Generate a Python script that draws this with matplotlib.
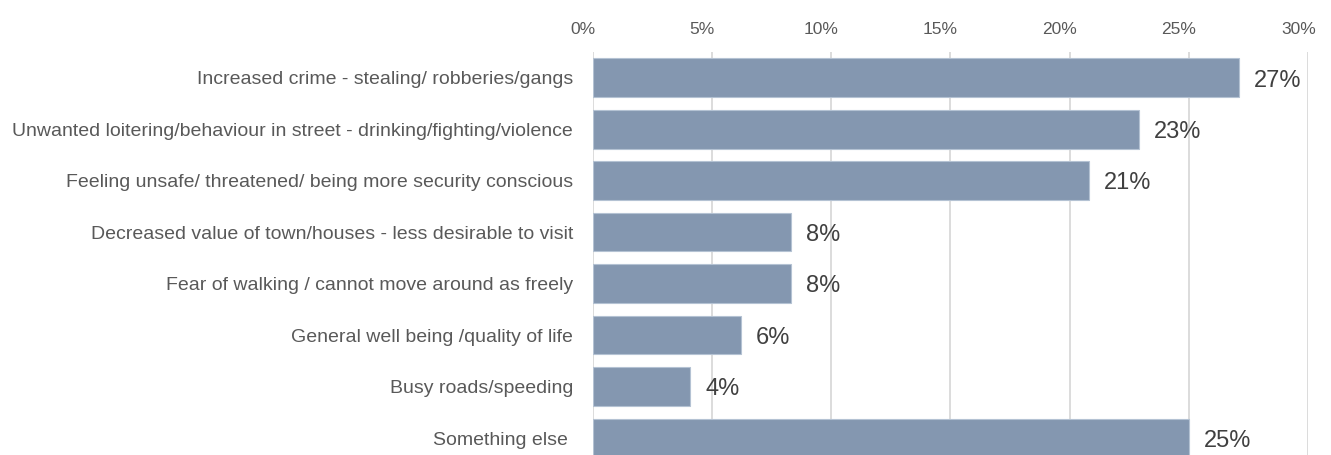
import matplotlib
matplotlib.use("Agg")
import matplotlib.pyplot as plt
import matplotlib.transforms as mtransforms
from matplotlib.ticker import FuncFormatter

# survey answers, top to bottom
categories = [
    "Increased crime - stealing/ robberies/gangs",
    "Unwanted loitering/behaviour in street - drinking/fighting/violence",
    "Feeling unsafe/ threatened/ being more security conscious",
    "Decreased value of town/houses - less desirable to visit",
    "Fear of walking / cannot move around as freely",
    "General well being /quality of life",
    "Busy roads/speeding",
    "Something else ",
]
values = [27.1, 22.9, 20.8, 8.3, 8.3, 6.2, 4.1, 25.0]
value_labels = ["27%", "23%", "21%", "8%", "8%", "6%", "4%", "25%"]
x_ticks = [0, 5, 10, 15, 20, 25, 30]

plt.rcParams['font.family'] = ['Liberation Sans', 'DejaVu Sans']

fig = plt.figure(figsize=(13.31, 4.55), dpi=100)
ax = fig.add_axes([0.4453, 0.0, 0.5376, 0.8857])

y = list(range(len(categories)))
ax.barh(y, values, height=0.75, color='#8497B0', edgecolor='#B4C2D3',
        linewidth=0.8, zorder=2)

for yi, v, lab in zip(y, values, value_labels):
    ax.annotate(lab, (v, yi), xytext=(11, -2), textcoords='offset points',
                ha='left', va='center', fontsize=17, color='#404040')

ax.set_xlim(0, 30)
ax.set_ylim(7.33, -0.5)
ax.set_xticks(x_ticks)
ax.xaxis.set_major_formatter(FuncFormatter(lambda v, p: f"{v:.0f}%"))
ax.set_yticks(y)
ax.set_yticklabels(categories)

ax.xaxis.tick_top()
ax.tick_params(axis='x', length=0, pad=11, labelsize=12.5, labelcolor='#595959')
ax.tick_params(axis='y', length=0, pad=14, labelsize=14, labelcolor='#595959')

# tick labels sit a little left of their gridlines
shift = mtransforms.ScaledTranslation(-10 / 100, 0, fig.dpi_scale_trans)
for t in ax.get_xticklabels():
    t.set_transform(t.get_transform() + shift)

ax.grid(axis='x', color='#D9D9D9', linewidth=1.3, zorder=0)
ax.set_axisbelow(True)
for s in ax.spines.values():
    s.set_visible(False)

fig.savefig("out.png", dpi=100)
